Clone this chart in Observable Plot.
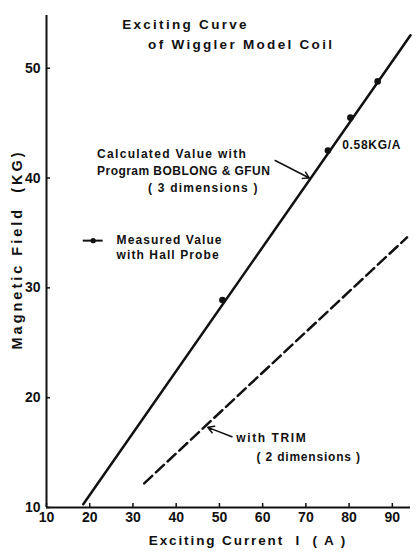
<!DOCTYPE html>
<html>
<head>
<meta charset="utf-8">
<script src="https://cdn.jsdelivr.net/npm/d3@7"></script>
<script src="https://cdn.jsdelivr.net/npm/@observablehq/plot@0.6"></script>
<style>
  html, body { margin: 0; padding: 0; background: #fff; }
  svg text { fill: #111; }
</style>
</head>
<body>
<div id="chart"></div>
<script>
// Measured values with Hall probe (current A, field KG)
const measuredCurrent = [50.7, 75.1, 80.3, 86.6];
const measuredField = [28.9, 42.5, 45.5, 48.8];
// Calculated with BOBLONG & GFUN (3 dimensions)
const calcCurrent = [18.5, 94.2];
const calcField = [10.3, 53.0];
// With TRIM (2 dimensions)
const trimCurrent = [32.6, 93.4];
const trimField = [12.2, 34.6];
// Tick labels
const xTicks = [10, 20, 30, 40, 50, 60, 70, 80, 90];
const yTicks = [10, 20, 30, 40, 50];
// Texts
const titleLines = ["Exciting Curve", "of Wiggler Model Coil"];
const calcNote = ["Calculated Value with", "Program BOBLONG & GFUN", "( 3 dimensions )"];
const slopeNote = "0.58KG/A";
const legendNote = ["Measured Value", "with Hall Probe"];
const trimNote = ["with TRIM", "( 2 dimensions )"];
const xLabel = "Exciting Current  I  ( A )";
const yLabel = "Magnetic Field  (KG)";

const measured = measuredCurrent.map((c, i) => ({I: c, B: measuredField[i]}));
const calc = calcCurrent.map((c, i) => ({I: c, B: calcField[i]}));
const trim = trimCurrent.map((c, i) => ({I: c, B: trimField[i]}));

const font = "Liberation Sans, Arial, sans-serif";
const ink = "#111";
const note = {textAnchor: "start", fontSize: 12, fontWeight: "bold"};

const chart = Plot.plot({
  width: 415,
  height: 551,
  marginLeft: 46,
  marginRight: 5,
  marginTop: 15,
  marginBottom: 44,
  x: {domain: [10, 94.2]},
  y: {domain: [10, 54.8]},
  style: {fontFamily: font, fontWeight: "bold", background: "#fff", color: ink},
  marks: [
    Plot.ruleX([10], {stroke: ink, strokeWidth: 2}),
    Plot.ruleY([10], {stroke: ink, strokeWidth: 2}),
    Plot.axisX(xTicks, {tickSize: -4, tickPadding: 9, label: null, fontSize: 14, fontWeight: "bold", stroke: ink, strokeWidth: 1.5}),
    Plot.axisY(yTicks, {tickSize: -4, tickPadding: 10, label: null, fontSize: 14, fontWeight: "bold", stroke: ink, strokeWidth: 1.5}),
    Plot.line(calc, {x: "I", y: "B", stroke: ink, strokeWidth: 2.5}),
    Plot.line(trim, {x: "I", y: "B", stroke: ink, strokeWidth: 2.5, strokeDasharray: "11,5"}),
    Plot.dot(measured, {x: "I", y: "B", r: 3.3, fill: ink}),
    // title
    Plot.text([titleLines[0]], {x: 27.5, y: 54.0, textAnchor: "start", fontSize: 13.5, fontWeight: "bold"}),
    Plot.text([titleLines[1]], {x: 33.5, y: 52.1, textAnchor: "start", fontSize: 13.5, fontWeight: "bold"}),
    // calculated annotation
    Plot.text([calcNote[0]], {...note, x: 21.7, y: 42.2}),
    Plot.text([calcNote[1]], {...note, x: 21.7, y: 40.6}),
    Plot.text([calcNote[2]], {...note, x: 33.5, y: 39.1}),
    Plot.arrow([0], {x1: 62.9, y1: 41.6, x2: 70.8, y2: 40.0, stroke: ink, strokeWidth: 1.5, headLength: 7}),
    Plot.text([slopeNote], {...note, x: 78.4, y: 43.0}),
    // legend
    Plot.ruleY([34.3], {x1: 18.5, x2: 23.1, stroke: ink, strokeWidth: 2}),
    Plot.dot([0], {x: 20.8, y: 34.3, r: 2.6, fill: ink}),
    Plot.text([legendNote[0]], {...note, x: 26.2, y: 34.3}),
    Plot.text([legendNote[1]], {...note, x: 26.2, y: 33.0}),
    // TRIM annotation
    Plot.text([trimNote[0]], {...note, x: 53.9, y: 16.3}),
    Plot.text([trimNote[1]], {...note, x: 58.6, y: 14.6}),
    Plot.arrow([0], {x1: 52.9, y1: 16.44, x2: 47.3, y2: 17.3, stroke: ink, strokeWidth: 1.5, headLength: 7}),
    // axis labels
    Plot.text([xLabel], {x: 56.6, frameAnchor: "bottom", textAnchor: "middle", lineAnchor: "middle", dy: 33, fontSize: 13.5, fontWeight: "bold"}),
    Plot.text([yLabel], {y: 33.5, frameAnchor: "left", textAnchor: "middle", lineAnchor: "middle", dx: -29, rotate: -90, fontSize: 14.5, fontWeight: "bold"})
  ]
});

// letter spacing to mimic the stencil lettering
const spacing = new Map([
  ...titleLines.map(t => [t, "2.3px"]),
  [calcNote[0], "1.3px"],
  [calcNote[1], "0.45px"],
  [calcNote[2], "1.2px"],
  [slopeNote, "0.7px"],
  ...legendNote.map(t => [t, "1.1px"]),
  [trimNote[0], "1.6px"],
  [trimNote[1], "0.8px"],
  [xLabel, "1.9px"],
  [yLabel, "3px"]
]);
d3.select(chart).selectAll("text").each(function () {
  const s = spacing.get(this.textContent);
  if (s) this.setAttribute("letter-spacing", s);
});
document.getElementById("chart").appendChild(chart);
</script>
</body>
</html>
